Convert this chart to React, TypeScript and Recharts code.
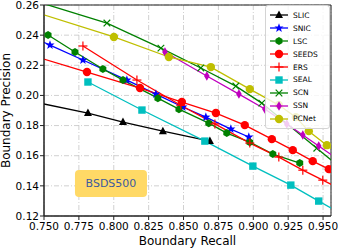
import React from "react";
import { LineChart, Line, XAxis, YAxis, CartesianGrid, Legend, ReferenceArea, ReferenceDot } from "recharts";

// axis ranges and ticks
const X_DOMAIN = [0.75, 0.9557];
const Y_DOMAIN = [0.12, 0.26];
const xTicks = [0.75, 0.775, 0.8, 0.825, 0.85, 0.875, 0.9, 0.925, 0.95];
const yTicks = [0.12, 0.14, 0.16, 0.18, 0.2, 0.22, 0.24, 0.26];

// boundary recall / precision per method (some points fall outside the visible range)
const slicRecall = [0.735, 0.7815, 0.8066, 0.8352, 0.8689];
const slicPrecision = [0.1972, 0.1883, 0.1823, 0.1763, 0.1697];

const snicRecall = [0.735, 0.7543, 0.7779, 0.8094, 0.8302, 0.8495, 0.866, 0.8839, 0.8968];
const snicPrecision = [0.2415, 0.2334, 0.2235, 0.2102, 0.2009, 0.1923, 0.1856, 0.1777, 0.1724];

const lscRecall = [0.7529, 0.7722, 0.7922, 0.8066, 0.8316, 0.8467, 0.8681, 0.881, 0.8975, 0.914, 0.9333];
const lscPrecision = [0.2401, 0.2288, 0.2175, 0.2102, 0.1982, 0.1909, 0.1816, 0.175, 0.169, 0.1611, 0.1551];

const seedsRecall = [0.735, 0.7808, 0.8188, 0.8488, 0.8732, 0.8939, 0.9133, 0.9283, 0.9426, 0.9541, 0.975];
const seedsPrecision = [0.2283, 0.2155, 0.2049, 0.1956, 0.1883, 0.1803, 0.171, 0.1637, 0.1564, 0.1511, 0.1415];

const ersRecall = [0.7779, 0.8166, 0.848, 0.8725, 0.8975, 0.9183, 0.9355, 0.9498, 0.975];
const ersPrecision = [0.2328, 0.2102, 0.1935, 0.1811, 0.1684, 0.1591, 0.1504, 0.1438, 0.1323];

const sealRecall = [0.7815, 0.8202, 0.8653, 0.8997, 0.9269, 0.9469, 0.975];
const sealPrecision = [0.2089, 0.1903, 0.1697, 0.1531, 0.1405, 0.1299, 0.115];

const scnRecall = [0.735, 0.7951, 0.8338, 0.8624, 0.8875, 0.9061, 0.9455, 0.975];
const scnPrecision = [0.2651, 0.248, 0.2314, 0.2182, 0.2062, 0.1949, 0.165, 0.1426];

const ssnRecall = [0.8367, 0.8667, 0.8897, 0.9083, 0.924, 0.9355, 0.9469, 0.975];
const ssnPrecision = [0.2288, 0.2129, 0.2009, 0.191, 0.181, 0.1737, 0.1664, 0.1484];

const pcnetRecall = [0.735, 0.8001, 0.8395, 0.8696, 0.8975, 0.9183, 0.9305, 0.9398, 0.9527, 0.975];
const pcnetPrecision = [0.2578, 0.2388, 0.2255, 0.2188, 0.2042, 0.1936, 0.1856, 0.1763, 0.167, 0.151];

const toPoints = (r: number[], p: number[]) => r.map((v, i) => ({ r: v, p: p[i] }));

const series = [
  { name: "SLIC", color: "#000000", shape: "triangle", data: toPoints(slicRecall, slicPrecision) },
  { name: "SNIC", color: "#0000ff", shape: "star", data: toPoints(snicRecall, snicPrecision) },
  { name: "LSC", color: "#008000", shape: "hexagon", data: toPoints(lscRecall, lscPrecision) },
  { name: "SEEDS", color: "#ff0000", shape: "circle", data: toPoints(seedsRecall, seedsPrecision) },
  { name: "ERS", color: "#ff0000", shape: "plus", data: toPoints(ersRecall, ersPrecision) },
  { name: "SEAL", color: "#00bfbf", shape: "square", data: toPoints(sealRecall, sealPrecision) },
  { name: "SCN", color: "#008000", shape: "x", data: toPoints(scnRecall, scnPrecision) },
  { name: "SSN", color: "#bf00bf", shape: "diamond", data: toPoints(ssnRecall, ssnPrecision) },
  { name: "PCNet", color: "#bfbf00", shape: "circle", data: toPoints(pcnetRecall, pcnetPrecision) },
];

const FONT = "'DejaVu Sans', sans-serif";

function Marker({ shape, cx, cy, color }: { shape: string; cx: number; cy: number; color: string }) {
  switch (shape) {
    case "triangle":
      return <polygon points={`${cx},${cy - 4.5} ${cx + 4},${cy + 3} ${cx - 4},${cy + 3}`} fill={color} />;
    case "star": {
      const pts: string[] = [];
      for (let i = 0; i < 10; i++) {
        const rad = i % 2 === 0 ? 4.8 : 2;
        const a = -Math.PI / 2 + (i * Math.PI) / 5;
        pts.push(`${cx + rad * Math.cos(a)},${cy + rad * Math.sin(a)}`);
      }
      return <polygon points={pts.join(" ")} fill={color} />;
    }
    case "hexagon": {
      const pts: string[] = [];
      for (let i = 0; i < 6; i++) {
        const a = -Math.PI / 2 + (i * Math.PI) / 3;
        pts.push(`${cx + 4 * Math.cos(a)},${cy + 4 * Math.sin(a)}`);
      }
      return <polygon points={pts.join(" ")} fill={color} />;
    }
    case "circle":
      return <circle cx={cx} cy={cy} r={4.2} fill={color} />;
    case "plus":
      return (
        <g stroke={color} strokeWidth={1.2}>
          <line x1={cx - 4.5} y1={cy} x2={cx + 4.5} y2={cy} />
          <line x1={cx} y1={cy - 4.5} x2={cx} y2={cy + 4.5} />
        </g>
      );
    case "square":
      return <rect x={cx - 3.7} y={cy - 3.7} width={7.4} height={7.4} fill={color} />;
    case "x":
      return (
        <g stroke={color} strokeWidth={1.2}>
          <line x1={cx - 3.3} y1={cy - 3.3} x2={cx + 3.3} y2={cy + 3.3} />
          <line x1={cx - 3.3} y1={cy + 3.3} x2={cx + 3.3} y2={cy - 3.3} />
        </g>
      );
    case "diamond":
      return <polygon points={`${cx},${cy - 4.8} ${cx + 2.8},${cy} ${cx},${cy + 4.8} ${cx - 2.8},${cy}`} fill={color} />;
    default:
      return null;
  }
}

const dotFor = (shape: string, color: string) => (props: any) => {
  const { cx, cy, index, payload } = props;
  const key = `${shape}-${color}-${index}`;
  const inside =
    payload.r >= X_DOMAIN[0] && payload.r <= X_DOMAIN[1] && payload.p >= Y_DOMAIN[0] && payload.p <= Y_DOMAIN[1];
  if (!inside || cx == null || cy == null) return <g key={key} />;
  return (
    <g key={key}>
      <Marker shape={shape} cx={cx} cy={cy} color={color} />
    </g>
  );
};

function LegendBox() {
  return (
    <div
      style={{
        boxSizing: "border-box",
        width: 65,
        padding: "3px 4px",
        border: "1px solid #d4d4d4",
        borderRadius: 3,
        background: "rgba(255,255,255,0.8)",
        fontFamily: FONT,
        fontSize: 7.5,
        color: "#000",
      }}
    >
      {series.map((s) => (
        <div key={s.name} style={{ display: "flex", alignItems: "center", height: 12.9 }}>
          <svg width={18} height={12} style={{ marginRight: 5, overflow: "visible" }}>
            <line x1={0} y1={6} x2={18} y2={6} stroke={s.color} strokeWidth={1.3} />
            <Marker shape={s.shape} cx={9} cy={6} color={s.color} />
          </svg>
          <span>{s.name}</span>
        </div>
      ))}
    </div>
  );
}

function DatasetTag(props: any) {
  const { cx, cy } = props;
  if (cx == null || cy == null) return <g />;
  return (
    <g>
      <rect x={cx - 36} y={cy - 13.5} width={72} height={27} rx={4} fill="#ffd966" />
      <text x={cx} y={cy} textAnchor="middle" dominantBaseline="central" fontSize={11} fill="#3d5b9e" fontFamily={FONT}>
        BSDS500
      </text>
    </g>
  );
}

export default function App() {
  return (
    <div style={{ position: "absolute", left: 0, top: 0, width: 338, height: 249, background: "#fff" }}>
      <LineChart width={338} height={249} margin={{ top: 5, right: 7, bottom: 0, left: 0 }}>
        <CartesianGrid stroke="#c4c4c4" strokeDasharray="5 2 1 2" strokeWidth={0.8} />
        <XAxis
          dataKey="r"
          type="number"
          domain={X_DOMAIN}
          ticks={xTicks}
          interval={0}
          allowDataOverflow
          height={33}
          tickSize={4}
          tickMargin={3}
          tickFormatter={(v: number) => v.toFixed(3)}
          tick={{ fill: "#000", fontSize: 10.5, fontFamily: FONT }}
          stroke="#222"
          label={{ value: "Boundary Recall", position: "insideBottom", offset: 4, fill: "#000", fontSize: 12, fontFamily: FONT }}
        />
        <YAxis
          dataKey="p"
          type="number"
          domain={Y_DOMAIN}
          ticks={yTicks}
          interval={0}
          allowDataOverflow
          width={44}
          tickSize={4}
          tickMargin={1}
          tickFormatter={(v: number) => v.toFixed(2)}
          tick={{ fill: "#000", fontSize: 10.5, fontFamily: FONT }}
          stroke="#222"
          label={{
            value: "Boundary Precision",
            angle: -90,
            position: "insideLeft",
            offset: 6,
            fill: "#000",
            fontSize: 12,
            fontFamily: FONT,
            style: { textAnchor: "middle" },
          }}
        />
        {series.map((s) => (
          <Line
            key={s.name}
            data={s.data}
            dataKey="p"
            name={s.name}
            type="linear"
            stroke={s.color}
            strokeWidth={1.3}
            dot={dotFor(s.shape, s.color)}
            activeDot={false}
            isAnimationActive={false}
          />
        ))}
        <ReferenceDot x={0.798} y={0.1415} shape={DatasetTag} />
        <ReferenceArea x1={X_DOMAIN[0]} x2={X_DOMAIN[1]} y1={Y_DOMAIN[0]} y2={Y_DOMAIN[1]} fill="none" stroke="#222" strokeWidth={1} />
        <Legend
          layout="vertical"
          align="center"
          verticalAlign="middle"
          wrapperStyle={{ left: 265, top: 5, width: 65 }}
          content={() => <LegendBox />}
        />
      </LineChart>
    </div>
  );
}
